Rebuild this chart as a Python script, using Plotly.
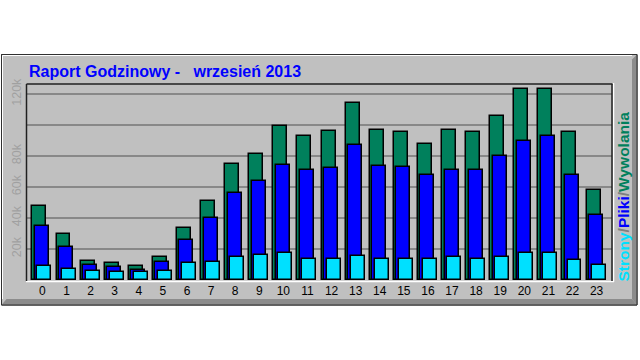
import plotly.graph_objects as go

# ---- data ----
hours = list(range(24))
hour_labels = [str(h) for h in hours]
hits = [48000, 29600, 12300, 10800, 9000, 14700, 33300, 51000, 75000, 81500, 99400, 93000,
        96000, 114000, 97000, 95300, 88000, 97000, 95300, 105700, 123400, 123400, 95300, 58000]
files = [35000, 21000, 9700, 8200, 6700, 11700, 26000, 39800, 56000, 64000, 74400, 71000,
         72000, 87300, 73500, 72800, 68000, 71000, 71000, 80000, 90000, 93000, 68000, 42000]
pages = [9000, 7300, 6000, 5000, 5000, 5800, 10800, 11700, 14700, 16400, 17300, 13800,
         13800, 15400, 13800, 13800, 13800, 14700, 13800, 14700, 17300, 17300, 13200, 9700]
y_tickvals = [0, 20000, 40000, 60000, 80000, 100000, 120000]
y_ticktext = ["", "20k", "40k", "60k", "80k", "", "120k"]
title_text = "Raport Godzinowy -   wrzesie\u0144 2013"

# ---- layout geometry (pixels) ----
W, H = 640, 360
PL, PR, PT, PB = 27, 612, 84, 280

def px(x):
    return (x - PL) / (PR - PL)

def py(y):
    return (PB - y) / (PB - PT)

GREEN, BLUE, CYAN = "#00805c", "#0000ff", "#00e0ff"
BG = "#c0c0c0"
SHADOW = "#8c8c8c"

bw = 0.58
fig = go.Figure()
for vals, col, off, name in [(hits, GREEN, -0.415, "Wywolania"),
                             (files, BLUE, -0.311, "Pliki"),
                             (pages, CYAN, -0.207, "Strony")]:
    fig.add_trace(go.Bar(x=hours, y=vals, name=name, width=bw, offset=off,
                         marker=dict(color=col, line=dict(color="#000000", width=1.5)),
                         showlegend=False, hoverinfo="x+y"))

shapes = []
# outer frame
shapes.append(dict(type="rect", xref="paper", yref="paper", layer="below",
                   x0=px(1.5), x1=px(637), y0=py(305), y1=py(54.5),
                   fillcolor=BG, line=dict(color="#303030", width=1)))
# right shadow (bevel)
shapes.append(dict(type="path", xref="paper", yref="paper", layer="below",
                   path=f"M {px(637)},{py(54.5)} L {px(637)},{py(305)} L {px(632)},{py(299)} L {px(632)},{py(59.5)} Z",
                   fillcolor=SHADOW, line=dict(width=0)))
# bottom shadow (bevel)
shapes.append(dict(type="path", xref="paper", yref="paper", layer="below",
                   path=f"M {px(1.5)},{py(305)} L {px(637)},{py(305)} L {px(632)},{py(299)} L {px(6.5)},{py(299)} Z",
                   fillcolor=SHADOW, line=dict(width=0)))
# outer dark edges again on top of shadow
shapes.append(dict(type="rect", xref="paper", yref="paper", layer="below",
                   x0=px(1.5), x1=px(637), y0=py(305), y1=py(54.5),
                   line=dict(color="#303030", width=1)))
# white highlight lines
shapes.append(dict(type="line", xref="paper", yref="paper", layer="below",
                   x0=px(2.5), x1=px(632), y0=py(55.5), y1=py(55.5),
                   line=dict(color="#ffffff", width=1)))
shapes.append(dict(type="line", xref="paper", yref="paper", layer="below",
                   x0=px(2.5), x1=px(2.5), y0=py(55.5), y1=py(299),
                   line=dict(color="#ffffff", width=1)))
# plot-area inset: white bottom/right, dark top/left/right
shapes.append(dict(type="line", xref="paper", yref="paper", layer="above",
                   x0=px(26), x1=px(614), y0=py(281.5), y1=py(281.5),
                   line=dict(color="#ffffff", width=1.5)))
shapes.append(dict(type="line", xref="paper", yref="paper", layer="above",
                   x0=px(613.5), x1=px(613.5), y0=py(83), y1=py(282),
                   line=dict(color="#ffffff", width=1.5)))
shapes.append(dict(type="line", xref="paper", yref="paper", layer="above",
                   x0=px(26.5), x1=px(612.5), y0=py(84), y1=py(84),
                   line=dict(color="#202020", width=1.5)))
shapes.append(dict(type="line", xref="paper", yref="paper", layer="above",
                   x0=px(26.5), x1=px(26.5), y0=py(84), y1=py(281),
                   line=dict(color="#202020", width=1.5)))
shapes.append(dict(type="line", xref="paper", yref="paper", layer="above",
                   x0=px(612), x1=px(612), y0=py(84), y1=py(281),
                   line=dict(color="#202020", width=1.5)))

annotations = [
    dict(text=title_text, xref="paper", yref="paper", x=px(27), y=py(71),
         xanchor="left", yanchor="middle", showarrow=False,
         font=dict(family="Liberation Sans, Arial", size=16, color="#0000ff", weight="bold")),
    dict(text=(f"<span style='color:{CYAN}'>Strony</span>"
               f"<span style='color:#808080'>/</span>"
               f"<span style='color:{BLUE}'>Pliki</span>"
               f"<span style='color:#808080'>/</span>"
               f"<span style='color:{GREEN}'>Wywolania</span>"),
         xref="paper", yref="paper", x=px(623), y=py(196.5), textangle=-90,
         xanchor="center", yanchor="middle", showarrow=False,
         font=dict(family="Liberation Sans, Arial", size=15.5, weight="bold")),
]

fig.update_layout(
    width=W, height=H,
    margin=dict(l=PL, r=W - PR, t=PT, b=H - PB, pad=0, autoexpand=False),
    paper_bgcolor="#ffffff", plot_bgcolor=BG,
    barmode="overlay", bargap=0,
    shapes=shapes, annotations=annotations,
    xaxis=dict(range=[-0.64, 23.64], tickmode="array", tickvals=hours, ticktext=hour_labels,
               showgrid=False, zeroline=False, showline=False, ticks="", automargin=False,
               ticklabelstandoff=2,
               tickfont=dict(family="Liberation Sans, Arial", size=12, color="#000000")),
    yaxis=dict(range=[0, 126500], tickmode="array", tickvals=y_tickvals, ticktext=y_ticktext,
               showgrid=True, gridcolor="#888888", gridwidth=2, zeroline=False, showline=False,
               ticks="", tickangle=-90, ticklabelstandoff=3, automargin=False,
               tickfont=dict(family="Liberation Sans, Arial", size=12.5, color="#a0a0a0")),
)

fig.write_html("out.html")
